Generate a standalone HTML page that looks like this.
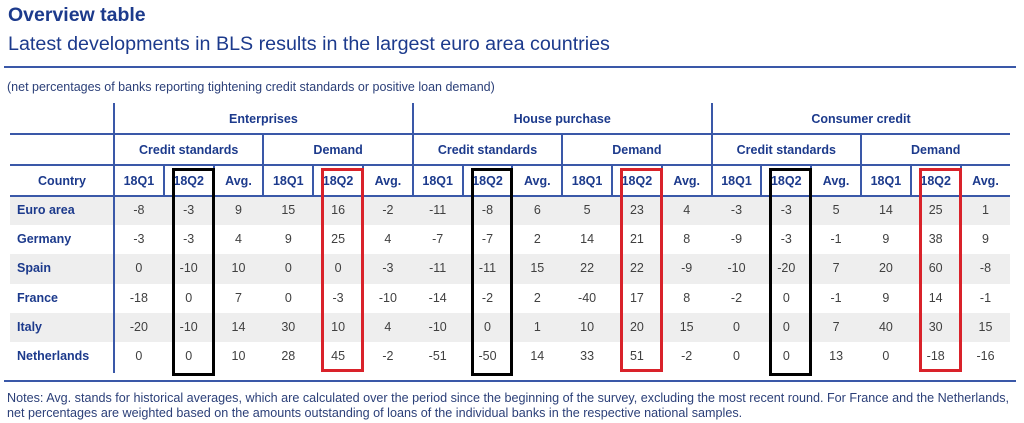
<!DOCTYPE html>
<html><head><meta charset="utf-8"><style>
body{margin:0;width:1024px;height:423px;background:#fff;position:relative;overflow:hidden;font-family:"Liberation Sans",Arial,sans-serif}
.a{position:absolute}
.t{white-space:nowrap}
.hl{position:absolute;height:2px;background:#3a58a8}
.vl{position:absolute;width:2px;background:#3a58a8}
.hd{position:absolute;color:#1c3a8c;font-weight:bold;font-size:12.5px;text-align:center;white-space:nowrap}
.cell{position:absolute;color:#404040;font-size:12.5px;text-align:center;white-space:nowrap}
.box{position:absolute;box-sizing:border-box;border:3px solid #000}
.red{border-color:#d9222a}
</style></head><body>
<div class="a t" style="left:8px;top:4px;font-size:19.5px;font-weight:bold;color:#1c3a8c">Overview table</div>
<div class="a t" style="left:8px;top:33px;font-size:19.7px;color:#1c3a8c">Latest developments in BLS results in the largest euro area countries</div>
<div class="hl" style="left:4px;width:1012px;top:66px"></div>
<div class="a t" style="left:7px;top:80px;font-size:12.5px;color:#2b3f78">(net percentages of banks reporting tightening credit standards or positive loan demand)</div>
<div id="tbl"></div>
<div class="hl" style="left:4px;width:1012px;top:380px"></div>
<div class="a t" style="left:7px;top:391px;font-size:12.6px;line-height:14.5px;color:#2b3f78">Notes: Avg. stands for historical averages, which are calculated over the period since the beginning of the survey, excluding the most recent round. For France and the Netherlands,<br>net percentages are weighted based on the amounts outstanding of loans of the individual banks in the respective national samples.</div>
<script>
const countries=["Euro area","Germany","Spain","France","Italy","Netherlands"];
const sections=["Enterprises","House purchase","Consumer credit"];
const subgroups=["Credit standards","Demand"];
const periods=["18Q1","18Q2","Avg."];
const rowEuro=[-8,-3,9,15,16,-2,-11,-8,6,5,23,4,-3,-3,5,14,25,1];
const rowGermany=[-3,-3,4,9,25,4,-7,-7,2,14,21,8,-9,-3,-1,9,38,9];
const rowSpain=[0,-10,10,0,0,-3,-11,-11,15,22,22,-9,-10,-20,7,20,60,-8];
const rowFrance=[-18,0,7,0,-3,-10,-14,-2,2,-40,17,8,-2,0,-1,9,14,-1];
const rowItaly=[-20,-10,14,30,10,4,-10,0,1,10,20,15,0,0,7,40,30,15];
const rowNetherlands=[0,0,10,28,45,-2,-51,-50,14,33,51,-2,0,0,13,0,-18,-16];
const rows=[rowEuro,rowGermany,rowSpain,rowFrance,rowItaly,rowNetherlands];

const T=document.getElementById('tbl');
const X0=114,CW=49.8,LEFT=10,RIGHT=1010;
const RH=29.2;
function mk(cls,css,txt){const d=document.createElement('div');d.className=cls;d.style.cssText=css;if(txt!==undefined)d.textContent=txt;T.appendChild(d);return d;}
for(let r=0;r<6;r+=2){const s=mk('a','left:'+LEFT+'px;width:'+(RIGHT-LEFT)+'px;top:'+(196+r*RH)+'px;height:'+RH+'px;background:#eeeeee');

}
[133,164,195].forEach(y=>{const l=mk('hl','left:'+LEFT+'px;width:'+(RIGHT-LEFT)+'px;top:'+y+'px');

});
const cs=mk('vl','left:'+(X0-1)+'px;top:103px;height:270px');


sections.forEach((s,i)=>{const x=X0+i*6*CW;
if(i>0){const v=mk('vl','left:'+(x-1)+'px;top:103px;height:93px');

}
const h=mk('hd','left:'+x+'px;width:'+(6*CW)+'px;top:112px',s);


subgroups.forEach((g,j)=>{const gx=x+j*3*CW;
if(j>0){const v=mk('vl','left:'+(gx-1)+'px;top:134px;height:62px');

}
const gh=mk('hd','left:'+gx+'px;width:'+(3*CW)+'px;top:143px',g);


periods.forEach((p,k)=>{const px=gx+k*CW;
if(k>0){const v=mk('vl','left:'+(px-1)+'px;top:165px;height:31px');

}
const ph=mk('hd','left:'+px+'px;width:'+CW+'px;top:174px',p);

});});});
const ch=mk('hd','left:10px;width:104px;top:174px','Country');


rows.forEach((row,r)=>{const y=196+r*RH+7;
const cl=mk('hd','left:17px;top:'+y+'px;text-align:left',countries[r]);


row.forEach((v,c)=>{const d=mk('cell','left:'+(X0+c*CW)+'px;width:'+CW+'px;top:'+y+'px',String(v));

});});
[[1,'box','black'],[4,'box red','red'],[7,'box','black'],[10,'box red','red'],[13,'box','black'],[16,'box red','red']].forEach(([c,cls,col])=>{
const x=X0+c*CW;const b=mk(cls,'left:'+(x+8)+'px;width:'+(CW-7)+'px;top:168px;height:'+(col==='black'?208:204)+'px');

});
</script>
</body></html>
